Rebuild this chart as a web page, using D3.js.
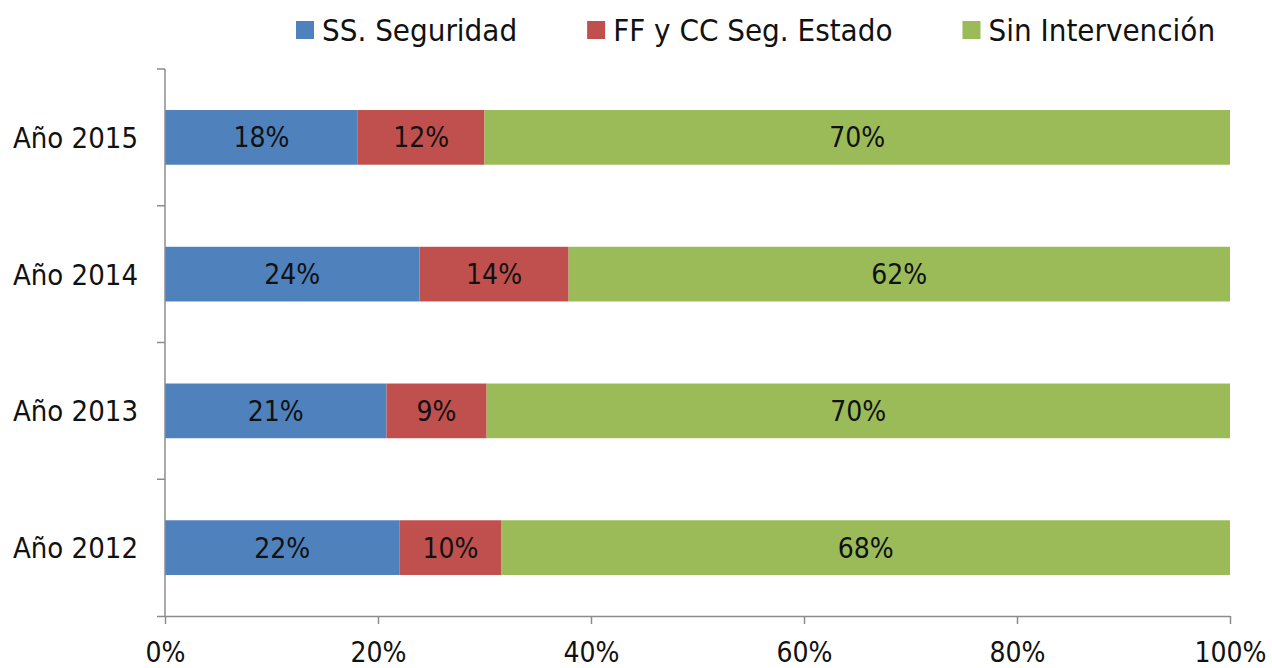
<!DOCTYPE html>
<html><head><meta charset="utf-8">
<script src="https://cdn.jsdelivr.net/npm/d3@7"></script>
<style>body{margin:0;background:#fff}svg{display:block}</style>
</head><body>
<svg id="c" width="1272" height="668"></svg>
<script>
const categories = ["Año 2015", "Año 2014", "Año 2013", "Año 2012"];
const seriesNames = ["SS. Seguridad", "FF y CC Seg. Estado", "Sin Intervención"];
const ssSeguridad = [18.1, 23.9, 20.8, 22.0];
const ffccSegEstado = [11.9, 14.0, 9.4, 9.6];
const sinIntervencion = [70.0, 62.1, 69.8, 68.4];
const xTicks = [0, 20, 40, 60, 80, 100];
const colors = ["#4F81BD", "#C0504D", "#9BBB59"];

(function () {
const FONT = "'DejaVu Sans Condensed', 'DejaVu Sans', sans-serif";
const svg = d3.select("#c");
const pLeft = 165, pRight = 1230, pTop = 69, pBottom = 616;

const rows = categories.map((c, i) => ({cat: c, v: [ssSeguridad[i], ffccSegEstado[i], sinIntervencion[i]]}));
const stacked = d3.stack().keys([0, 1, 2]).value((d, k) => d.v[k])(rows);

const x = d3.scaleLinear().domain([0, 100]).range([pLeft, pRight]);
const y = d3.scaleBand().domain(categories).range([pTop, pBottom]).paddingInner(0.6).paddingOuter(0.3);

const g = svg.append("g");
stacked.forEach((layer, k) => {
  g.selectAll(null).data(layer).enter().append("rect")
    .attr("x", d => x(d[0]))
    .attr("width", d => x(d[1]) - x(d[0]))
    .attr("y", d => y(d.data.cat))
    .attr("height", y.bandwidth())
    .attr("fill", colors[k]);
});
stacked.forEach((layer, k) => {
  g.selectAll(null).data(layer).enter().append("text")
    .attr("x", d => (x(d[0]) + x(d[1])) / 2)
    .attr("y", d => y(d.data.cat) + y.bandwidth() / 2)
    .attr("dy", "0.36em")
    .attr("text-anchor", "middle")
    .attr("font-family", FONT).attr("font-size", 28).attr("fill", "#111")
    .text(d => Math.round(d[1] - d[0]) + "%");
});

const axisColor = "#8c8c8c";
const xAxis = svg.append("g").attr("transform", `translate(0,${pBottom})`)
  .call(d3.axisBottom(x).tickValues(xTicks).tickFormat(d => d + "%").tickSize(8).tickSizeOuter(0));
xAxis.select(".domain").remove();
xAxis.append("line").attr("x1", pLeft - 8).attr("x2", pRight).attr("y1", 0.5).attr("y2", 0.5)
  .attr("stroke", axisColor).attr("stroke-width", 1.5);
xAxis.selectAll(".tick line").attr("stroke", axisColor).attr("stroke-width", 1.5);
xAxis.selectAll(".tick text").attr("font-family", FONT).attr("font-size", 28).attr("fill", "#111").attr("dy", "1.25em");

const yAxisG = svg.append("g");
yAxisG.append("line").attr("x1", pLeft).attr("x2", pLeft).attr("y1", pTop).attr("y2", pBottom)
  .attr("stroke", axisColor).attr("stroke-width", 1.5);
const boundaryYs = [pTop].concat(categories.slice(1).map(c => y(c) - (y.step() - y.bandwidth()) / 2));
yAxisG.selectAll(null).data(boundaryYs).enter().append("line")
  .attr("x1", pLeft - 8).attr("x2", pLeft).attr("y1", d => d).attr("y2", d => d)
  .attr("stroke", axisColor).attr("stroke-width", 1.5);
yAxisG.selectAll(null).data(categories).enter().append("text")
  .attr("x", pLeft - 27)
  .attr("y", d => y(d) + y.bandwidth() / 2)
  .attr("dy", "0.36em")
  .attr("text-anchor", "end")
  .attr("font-family", FONT).attr("font-size", 29).attr("fill", "#111")
  .text(d => d);

const leg = svg.append("g");
let lx = 296;
seriesNames.forEach((name, k) => {
  leg.append("rect").attr("x", lx).attr("y", 21).attr("width", 18).attr("height", 18).attr("fill", colors[k]);
  const t = leg.append("text").attr("x", lx + 26).attr("y", 30).attr("dy", "0.36em")
    .attr("font-family", FONT).attr("font-size", 31).attr("fill", "#111").text(name);
  const w = t.node().getComputedTextLength();
  lx = lx + 26 + w + 70;
});
})();
</script>
</body></html>
